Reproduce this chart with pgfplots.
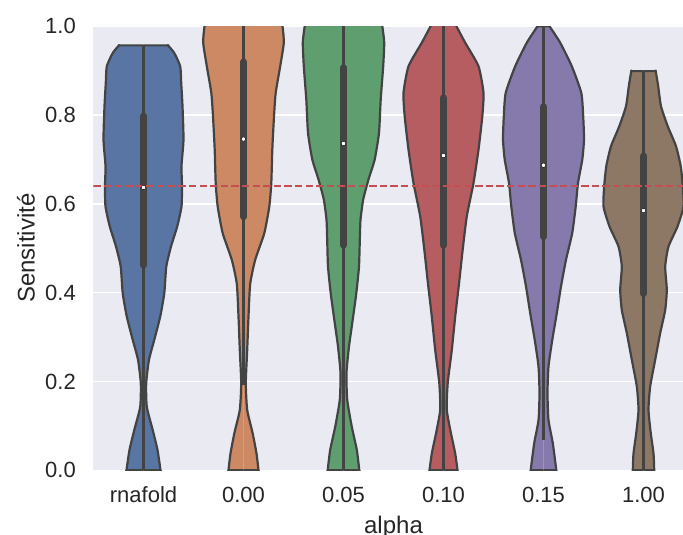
\documentclass[border=0pt]{standalone}
\usepackage{pgfplots}
\usepackage{pgfplotstable}
\pgfplotsset{compat=1.18}
\usepackage{fontspec}
\setmainfont{Liberation Sans}
\definecolor{cA}{HTML}{5875A4}
\definecolor{cB}{HTML}{CC8963}
\definecolor{cC}{HTML}{5F9E6E}
\definecolor{cD}{HTML}{B55D60}
\definecolor{cE}{HTML}{857AAB}
\definecolor{cF}{HTML}{8D7866}
\definecolor{bgc}{HTML}{EAEAF2}
\definecolor{tc}{HTML}{262626}
\definecolor{edge}{HTML}{434343}
\definecolor{refc}{HTML}{C44E52}

\pgfplotstableread{
v w
0 0
0 0.165
0 0.17
0.046 0.14
0.091 0.092
0.143 0.033
0.196 0.027
0.249 0.055
0.294 0.108
0.346 0.167
0.399 0.208
0.459 0.228
0.504 0.275
0.549 0.337
0.594 0.38
0.64 0.385
0.685 0.38
0.745 0.40
0.82 0.39
0.873 0.377
0.91 0.367
0.94 0.307
0.957 0.245
0.957 0.238
0.957 0
}\tA
\pgfplotstableread{
v w
0 0
0 0.145
0 0.15
0.038 0.13
0.083 0.092
0.136 0.037
0.196 0.023
0.271 0.037
0.346 0.05
0.42 0.067
0.474 0.117
0.534 0.208
0.594 0.258
0.647 0.278
0.722 0.288
0.797 0.305
0.85 0.322
0.91 0.367
0.963 0.403
1.0 0.39
1.03 0.36
1.03 0
}\tB
\pgfplotstableread{
v w
0 0
0 0.153
0 0.158
0.046 0.133
0.098 0.083
0.159 0.037
0.219 0.03
0.279 0.055
0.339 0.092
0.399 0.128
0.459 0.155
0.519 0.163
0.564 0.17
0.61 0.197
0.655 0.25
0.70 0.312
0.76 0.355
0.835 0.372
0.91 0.397
0.963 0.407
1.0 0.388
1.03 0.36
1.03 0
}\tC
\pgfplotstableread{
v w
0 0
0 0.135
0 0.14
0.038 0.117
0.083 0.075
0.136 0.033
0.196 0.042
0.271 0.083
0.346 0.117
0.42 0.155
0.497 0.192
0.572 0.233
0.647 0.30
0.722 0.35
0.797 0.388
0.85 0.40
0.91 0.35
0.963 0.217
1.0 0.13
1.03 0.07
1.03 0
}\tD
\pgfplotstableread{
v w
0 0
0 0.123
0 0.128
0.061 0.093
0.113 0.05
0.174 0.04
0.234 0.05
0.294 0.088
0.354 0.133
0.414 0.175
0.474 0.225
0.534 0.287
0.594 0.322
0.647 0.345
0.70 0.388
0.745 0.405
0.797 0.397
0.85 0.378
0.91 0.283
0.963 0.167
1.0 0.06
1.0 0.055
1.0 0
}\tE
\pgfplotstableread{
v w
0 0
0 0.102
0 0.107
0.038 0.10
0.083 0.073
0.136 0.05
0.189 0.067
0.249 0.117
0.309 0.167
0.361 0.217
0.407 0.233
0.459 0.217
0.504 0.25
0.549 0.34
0.594 0.40
0.64 0.393
0.685 0.372
0.73 0.325
0.775 0.242
0.82 0.175
0.865 0.147
0.899 0.122
0.899 0.116
0.899 0
}\tF

\begin{document}
\begin{tikzpicture}
\begin{axis}[
  scale only axis, width=600pt, height=444pt,
  at={(0,0)}, anchor=south west,
  xmin=-0.5, xmax=5.5, ymin=0, ymax=1,
  axis background/.style={fill=bgc},
  axis line style={draw=none},
  major tick length=0pt,
  ymajorgrids, grid style={white, line width=1.5pt},
  xtick={0,1,2,3,4,5},
  xticklabels={rnafold,0.00,0.05,0.10,0.15,1.00},
  ytick={0,0.2,0.4,0.6,0.8,1},
  yticklabels={0.0,0.2,0.4,0.6,0.8,1.0},
  tick label style={font=\fontsize{22}{26}\selectfont, text=tc},
  xticklabel style={anchor=north, inner sep=0pt, yshift=-16.4pt},
  yticklabel style={anchor=east, inner sep=0pt, xshift=-17.5pt},
  label style={font=\fontsize{24}{28}\selectfont, text=tc},
  xlabel={alpha}, ylabel={Sensitivité},
  xlabel style={at={(axis description cs:0.5,-0.1419)}, anchor=base},
  ylabel style={at={(axis description cs:-0.0983,0.5)}, anchor=base},
  violin/.style={draw=edge, line width=2.2pt, line join=round, smooth, tension=0.35},
  whisk/.style={draw=edge, line width=2.3pt},
  boxl/.style={draw=edge, line width=6.8pt, line cap=round},
]
\addplot[violin, fill=cA] table[x expr=0+\thisrow{w}, y=v]{\tA};
\addplot[violin, fill=cA] table[x expr=0-\thisrow{w}, y=v]{\tA};
\addplot[violin, fill=cB] table[x expr=1+\thisrow{w}, y=v]{\tB};
\addplot[violin, fill=cB] table[x expr=1-\thisrow{w}, y=v]{\tB};
\addplot[violin, fill=cC] table[x expr=2+\thisrow{w}, y=v]{\tC};
\addplot[violin, fill=cC] table[x expr=2-\thisrow{w}, y=v]{\tC};
\addplot[violin, fill=cD] table[x expr=3+\thisrow{w}, y=v]{\tD};
\addplot[violin, fill=cD] table[x expr=3-\thisrow{w}, y=v]{\tD};
\addplot[violin, fill=cE] table[x expr=4+\thisrow{w}, y=v]{\tE};
\addplot[violin, fill=cE] table[x expr=4-\thisrow{w}, y=v]{\tE};
\addplot[violin, fill=cF] table[x expr=5+\thisrow{w}, y=v]{\tF};
\addplot[violin, fill=cF] table[x expr=5-\thisrow{w}, y=v]{\tF};
% whiskers
\addplot[whisk] coordinates {(0,0) (0,0.957)};
\addplot[whisk] coordinates {(1,0.192) (1,1.03)};
\addplot[whisk] coordinates {(2,0) (2,1.03)};
\addplot[whisk] coordinates {(3,0) (3,1.03)};
\addplot[whisk] coordinates {(4,0.068) (4,1.03)};
\addplot[whisk] coordinates {(5,0) (5,0.899)};
% boxes
\addplot[boxl] coordinates {(0,0.462) (0,0.798)};
\addplot[boxl] coordinates {(1,0.571) (1,0.920)};
\addplot[boxl] coordinates {(2,0.507) (2,0.907)};
\addplot[boxl] coordinates {(3,0.507) (3,0.839)};
\addplot[boxl] coordinates {(4,0.526) (4,0.819)};
\addplot[boxl] coordinates {(5,0.398) (5,0.708)};
% medians
\addplot[only marks, mark=*, mark size=2.2pt, mark options={fill=white, draw=none}]
  coordinates {(0,0.637) (1,0.746) (2,0.736) (3,0.709) (4,0.687) (5,0.585)};
% reference line
\addplot[refc, line width=2pt, dash pattern=on 7.4pt off 3.2pt] coordinates {(-0.5,0.640) (5.5,0.640)};
\end{axis}
\pgfresetboundingbox
\path (-93.5pt,-64.7pt) rectangle (589.5pt,470.3pt);
\end{tikzpicture}
\end{document}
